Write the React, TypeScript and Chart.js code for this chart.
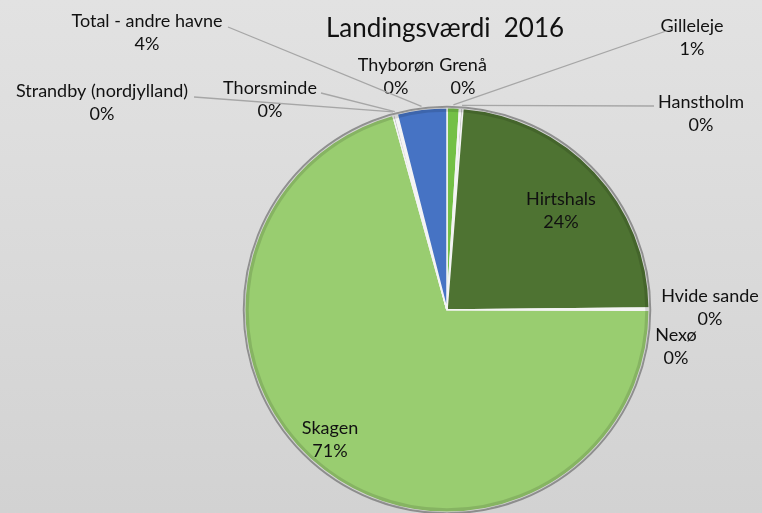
import React, { useEffect, useRef } from "react";
import { Chart, registerables } from "chart.js";

Chart.register(...registerables);

const title = "Landingsværdi  2016";
const categories = [
  "Gilleleje",
  "Grenå",
  "Hanstholm",
  "Hirtshals",
  "Hvide sande",
  "Nexø",
  "Skagen",
  "Strandby (nordjylland)",
  "Thorsminde",
  "Thyborøn",
  "Total - andre havne",
];
const values = [11, 1, 2, 262, 1, 1, 785, 2, 1, 1, 44];
const colors = [
  "#74c046",
  "#8a8a8a",
  "#b0b0b0",
  "#4e7332",
  "#c0c0c0",
  "#c8c8c8",
  "#99cd70",
  "#b8b8b8",
  "#a8a8a8",
  "#5a5a5a",
  "#4673c4",
];

// label layout: centre x, first line y, optional leader start
const labelLayout: { x: number; y: number; lead?: [number, number] }[] = [
  { x: 692, y: 26, lead: [672, 29] },
  { x: 463, y: 65 },
  { x: 701, y: 102, lead: [654, 106] },
  { x: 561, y: 199 },
  { x: 710, y: 296 },
  { x: 676, y: 335 },
  { x: 330, y: 428 },
  { x: 102, y: 91, lead: [194, 97] },
  { x: 270, y: 88, lead: [321, 93] },
  { x: 396, y: 65 },
  { x: 147, y: 21, lead: [228, 27] },
];

const FONT = "Lato, 'Open Sans', sans-serif";

const decorPlugin = {
  id: "decor",
  beforeDraw(chart: any) {
    const { ctx, width, height } = chart;
    ctx.save();
    const g = ctx.createLinearGradient(0, 0, 0, height);
    g.addColorStop(0, "#e2e2e2");
    g.addColorStop(1, "#d2d2d2");
    ctx.fillStyle = g;
    ctx.fillRect(0, 0, width, height);
    ctx.restore();
  },
  afterDatasetsDraw(chart: any) {
    const { ctx } = chart;
    const meta = chart.getDatasetMeta(0);
    const a0 = meta.data[0];
    const cx = a0.x;
    const cy = a0.y;
    const r = a0.outerRadius;
    ctx.save();
    // bevel rim
    ctx.beginPath();
    ctx.arc(cx, cy, r - 2, 0, Math.PI * 2);
    ctx.strokeStyle = "rgba(0,0,0,0.12)";
    ctx.lineWidth = 4;
    ctx.stroke();
    ctx.beginPath();
    ctx.arc(cx, cy, r + 1, 0, Math.PI * 2);
    ctx.strokeStyle = "rgba(110,110,110,0.7)";
    ctx.lineWidth = 2;
    ctx.stroke();

    const total = values.reduce((s, v) => s + v, 0);
    ctx.font = `18px ${FONT}`;
    ctx.textAlign = "center";
    ctx.textBaseline = "middle";
    ctx.fillStyle = "#111";
    meta.data.forEach((arc: any, i: number) => {
      const lay = labelLayout[i];
      const pct = Math.round((values[i] / total) * 100) + "%";
      ctx.fillText(categories[i], lay.x, lay.y);
      ctx.fillText(pct, lay.x, lay.y + 23);
      if (lay.lead) {
        const mid = (arc.startAngle + arc.endAngle) / 2;
        const ex = arc.x + Math.cos(mid) * (arc.outerRadius + 3);
        const ey = arc.y + Math.sin(mid) * (arc.outerRadius + 3);
        ctx.beginPath();
        ctx.moveTo(lay.lead[0], lay.lead[1]);
        ctx.lineTo(ex, ey);
        ctx.strokeStyle = "#a6a6a6";
        ctx.lineWidth = 1.3;
        ctx.stroke();
      }
    });

    ctx.font = `26px ${FONT}`;
    ctx.fillStyle = "#111";
    ctx.fillText(title, 445, 29);
    ctx.restore();
  },
};

export default function App() {
  const ref = useRef<HTMLCanvasElement>(null);
  useEffect(() => {
    document.body.style.margin = "0";
    document.body.style.overflow = "hidden";
    const chart = new Chart(ref.current!, {
      type: "pie",
      data: {
        labels: categories,
        datasets: [
          {
            data: values,
            backgroundColor: colors,
            borderColor: "#f4f4f4",
            borderWidth: 1.5,
          },
        ],
      },
      options: {
        animation: false,
        responsive: false,
        layout: { padding: { top: 107, bottom: -2, left: 243, right: 111 } },
        plugins: {
          legend: { display: false },
          tooltip: { enabled: false },
          title: { display: false },
        },
      },
      plugins: [decorPlugin],
    });
    return () => chart.destroy();
  }, []);
  return <canvas ref={ref} width={762} height={513} style={{ display: "block" }} />;
}
